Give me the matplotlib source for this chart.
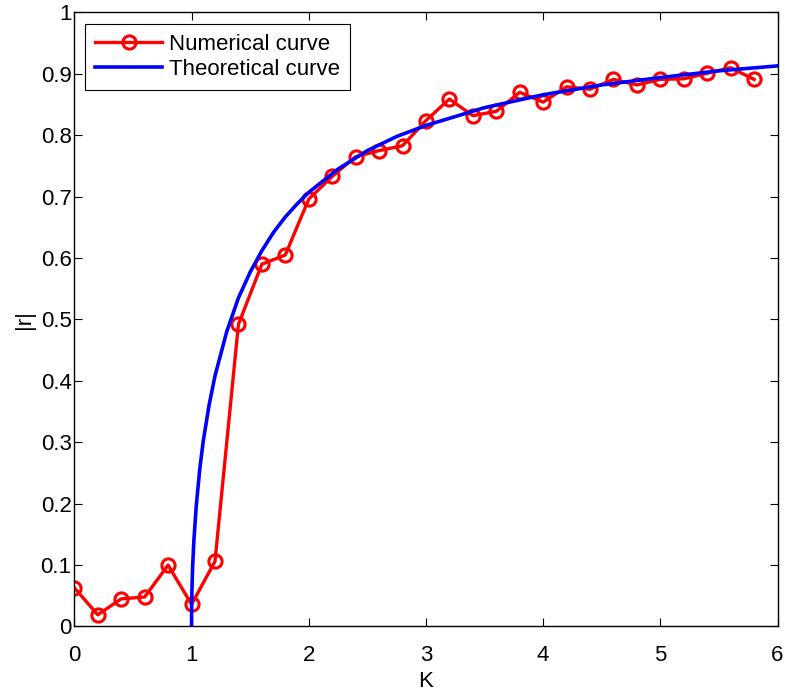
import numpy as np
from matplotlib import pyplot as plt

plt.rcParams['font.family'] = ['Liberation Sans', 'DejaVu Sans']

# numerical order parameter
k_num = [0.0, 0.2, 0.4, 0.6, 0.8, 1.0, 1.2, 1.4, 1.6, 1.8, 2.0, 2.2, 2.4, 2.6,
         2.8, 3.0, 3.2, 3.4, 3.6, 3.8, 4.0, 4.2, 4.4, 4.6, 4.8, 5.0, 5.2, 5.4,
         5.6, 5.8]
r_num = [0.063, 0.019, 0.045, 0.048, 0.100, 0.036, 0.106, 0.492, 0.590, 0.605,
         0.696, 0.733, 0.765, 0.775, 0.783, 0.824, 0.859, 0.832, 0.839, 0.870,
         0.854, 0.879, 0.875, 0.891, 0.882, 0.891, 0.892, 0.901, 0.910, 0.891]

# theoretical curve
k_th = [1.0, 1.001, 1.003, 1.005, 1.01, 1.02, 1.04, 1.07, 1.1, 1.15, 1.2, 1.3,
        1.4, 1.5, 1.6, 1.7, 1.8, 1.9, 2.0, 2.25, 2.5, 2.75, 3.0, 3.5, 4.0, 4.5,
        5.0, 5.5, 6.0]
r_th = [0.0, 0.032, 0.055, 0.071, 0.100, 0.140, 0.196, 0.256, 0.302, 0.361,
        0.408, 0.480, 0.535, 0.577, 0.612, 0.642, 0.667, 0.688, 0.707, 0.745,
        0.775, 0.798, 0.816, 0.845, 0.866, 0.882, 0.894, 0.905, 0.913]

fig = plt.figure(figsize=(7.85, 6.93), dpi=100)
ax = fig.add_axes([0.0947, 0.096, 0.8958, 0.886])

ax.plot(k_num, r_num, '-o', color='red', lw=2.4, ms=9.5, mfc='none',
        mew=2.2, label='Numerical curve')
ax.plot(k_th, r_th, '-', color='blue', lw=2.6, label='Theoretical curve')

ax.set_xlim(0, 6)
ax.set_ylim(0, 1)
ax.set_xticks(range(7))
ax.set_yticks(np.arange(0, 1.01, 0.1))
ax.set_yticklabels(['0', '0.1', '0.2', '0.3', '0.4', '0.5', '0.6', '0.7',
                    '0.8', '0.9', '1'])
ax.tick_params(direction='in', top=True, right=True, length=6, width=0.8,
               labelsize=16)
ax.tick_params(axis='x', pad=13)
ax.tick_params(axis='y', pad=2)
for s in ax.spines.values():
    s.set_linewidth(1.0)
ax.set_xlabel('K', fontsize=16, labelpad=4)
ax.set_ylabel('|r|', fontsize=16, labelpad=4)

leg = ax.legend(loc='upper left', fontsize=16, fancybox=False, framealpha=1,
                edgecolor='black', handlelength=3.0, borderpad=0.45,
                labelspacing=0.2, handletextpad=0.3, borderaxespad=0.5)
leg.get_frame().set_linewidth(0.8)

fig.savefig('out.png', dpi=100)
